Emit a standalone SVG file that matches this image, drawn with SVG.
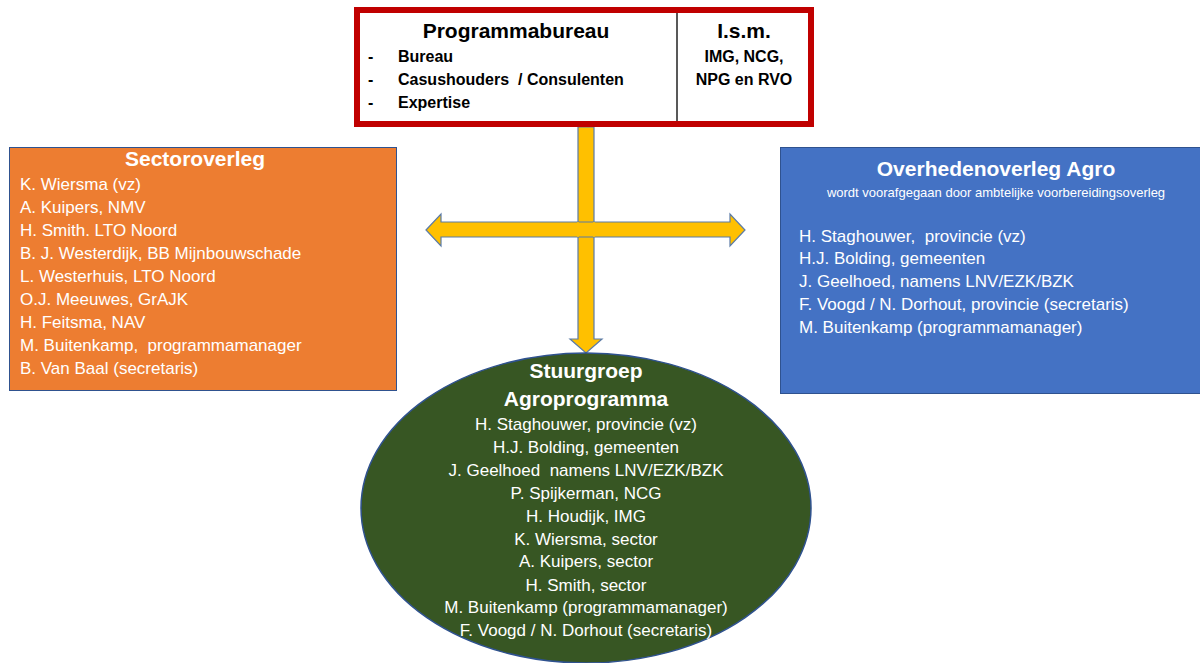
<svg xmlns="http://www.w3.org/2000/svg" width="1200" height="663" viewBox="0 0 1200 663">
<style>
text{font-family:"Liberation Sans","Noto Sans",Arial,sans-serif;white-space:pre;}
.t{font-size:17px;fill:#fff;}
.h{font-size:21px;font-weight:bold;fill:#fff;}
.b{font-size:16px;font-weight:bold;fill:#000;}
.bh{font-size:21px;font-weight:bold;fill:#000;}
.arrow{fill:#FFC000;stroke:#5B7BA6;stroke-width:1.2;}
</style>
<rect width="1200" height="663" fill="#fff"/>
<g id="connectors">
<path class="arrow" d="M578,127 L594,127 L594,339 L602,339 L586,353 L570,339 L578,339 Z"/>
<path class="arrow" d="M426,230 L441,214 L441,222 L730,222 L730,214 L745,230 L730,246 L730,237 L441,237 L441,246 Z"/>
<path d="M578,222 L578,237 M594,222 L594,237" stroke="#FFC000" stroke-width="1.5"/>
</g>
<g id="programmabureau">
<rect x="357" y="10" width="454" height="114" fill="#fff" stroke="#C00000" stroke-width="6"/>
<line x1="677" y1="13" x2="677" y2="121" stroke="#595959" stroke-width="2"/>
<text class="bh" x="516" y="38" text-anchor="middle">Programmabureau</text>
<text class="b" x="368" y="62">-</text>
<text class="b" x="398" y="62">Bureau</text>
<text class="b" x="368" y="85">-</text>
<text class="b" x="398" y="85">Casushouders  / Consulenten</text>
<text class="b" x="368" y="108">-</text>
<text class="b" x="398" y="108">Expertise</text>
<text class="bh" x="744" y="38" text-anchor="middle">I.s.m.</text>
<text class="b" x="744" y="62" text-anchor="middle">IMG, NCG,</text>
<text class="b" x="744" y="85" text-anchor="middle">NPG en RVO</text>
</g>
<g id="sectoroverleg">
<rect x="9.5" y="147.5" width="387" height="243" fill="#ED7D31" stroke="#2F528F" stroke-width="1"/>
<text class="h" x="195" y="166" text-anchor="middle">Sectoroverleg</text>
<text class="t" x="20" y="190">K. Wiersma (vz)</text>
<text class="t" x="20" y="213">A. Kuipers, NMV</text>
<text class="t" x="20" y="236">H. Smith. LTO Noord</text>
<text class="t" x="20" y="259">B. J. Westerdijk, BB Mijnbouwschade</text>
<text class="t" x="20" y="282">L. Westerhuis, LTO Noord</text>
<text class="t" x="20" y="305">O.J. Meeuwes, GrAJK</text>
<text class="t" x="20" y="328">H. Feitsma, NAV</text>
<text class="t" x="20" y="351">M. Buitenkamp,  programmamanager</text>
<text class="t" x="20" y="374">B. Van Baal (secretaris)</text>
</g>
<g id="overhedenoverleg">
<rect x="780.5" y="147.5" width="425" height="246" fill="#4472C4" stroke="#2F528F" stroke-width="1"/>
<text class="h" x="996" y="176" text-anchor="middle">Overhedenoverleg Agro</text>
<text x="996" y="197" text-anchor="middle" style="font-size:13px;fill:#fff">wordt voorafgegaan door ambtelijke voorbereidingsoverleg</text>
<text class="t" x="799" y="242">H. Staghouwer,  provincie (vz)</text>
<text class="t" x="799" y="264">H.J. Bolding, gemeenten</text>
<text class="t" x="799" y="287">J. Geelhoed, namens LNV/EZK/BZK</text>
<text class="t" x="799" y="310">F. Voogd / N. Dorhout, provincie (secretaris)</text>
<text class="t" x="799" y="333">M. Buitenkamp (programmamanager)</text>
</g>
<g id="stuurgroep">
<ellipse cx="586" cy="508" rx="225" ry="155" fill="#375623" stroke="#2F528F" stroke-width="1.5"/>
<text class="h" x="586" y="378" text-anchor="middle">Stuurgroep</text>
<text class="h" x="586" y="406" text-anchor="middle">Agroprogramma</text>
<text class="t" x="586" y="430" text-anchor="middle">H. Staghouwer, provincie (vz)</text>
<text class="t" x="586" y="453" text-anchor="middle">H.J. Bolding, gemeenten</text>
<text class="t" x="586" y="476" text-anchor="middle">J. Geelhoed  namens LNV/EZK/BZK</text>
<text class="t" x="586" y="499" text-anchor="middle">P. Spijkerman, NCG</text>
<text class="t" x="586" y="522" text-anchor="middle">H. Houdijk, IMG</text>
<text class="t" x="586" y="545" text-anchor="middle">K. Wiersma, sector</text>
<text class="t" x="586" y="567" text-anchor="middle">A. Kuipers, sector</text>
<text class="t" x="586" y="591" text-anchor="middle">H. Smith, sector</text>
<text class="t" x="586" y="613" text-anchor="middle">M. Buitenkamp (programmamanager)</text>
<text class="t" x="586" y="636" text-anchor="middle">F. Voogd / N. Dorhout (secretaris)</text>
</g>
</svg>
